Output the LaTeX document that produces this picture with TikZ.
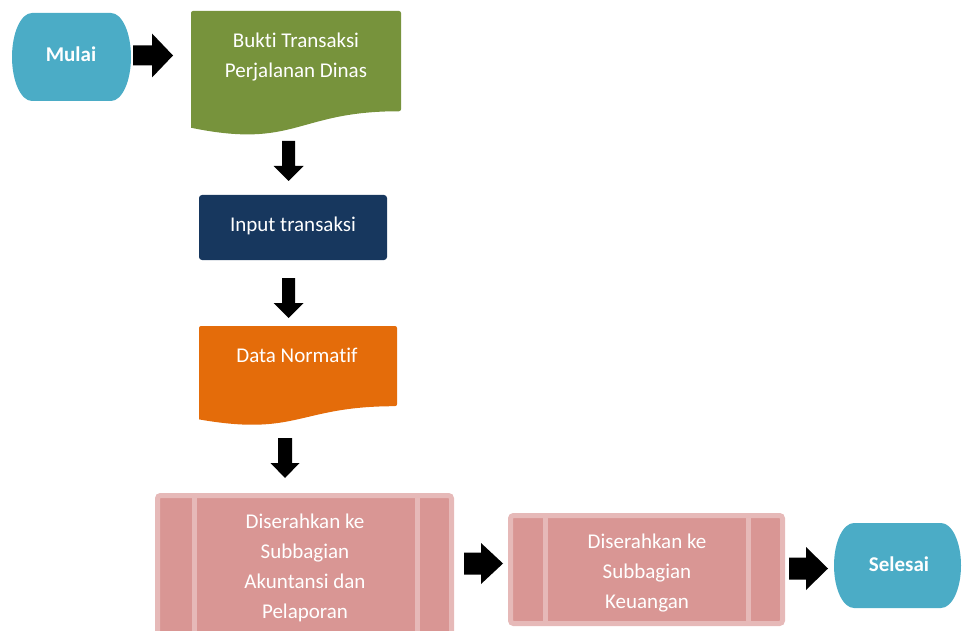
\documentclass[tikz,border=0pt]{standalone}
\usepackage{fontspec}
\setmainfont{Carlito}[Ligatures=NoCommon]
\definecolor{termblue}{HTML}{4BACC6}
\definecolor{docgreen}{HTML}{77933C}
\definecolor{procnavy}{HTML}{17375E}
\definecolor{docorange}{HTML}{E46C0A}
\definecolor{pinkfill}{HTML}{D99694}
\definecolor{pinkline}{HTML}{E6B9B8}
% block arrows: right-pointing and down-pointing
\newcommand\blockright[6]{% x0, x head, x tip, y centre, half head, half shaft
  \fill[blockarrow] (#1,{#4-#6}) -- (#2,{#4-#6}) -- (#2,{#4-#5}) -- (#3,#4)
    -- (#2,{#4+#5}) -- (#2,{#4+#6}) -- (#1,{#4+#6}) -- cycle;}
\newcommand\blockdown[6]{% x centre, y0, y head, y tip, half head, half shaft
  \fill[blockarrow] ({#1-#6},#2) -- ({#1-#6},#3) -- ({#1-#5},#3) -- (#1,#4)
    -- ({#1+#5},#3) -- ({#1+#6},#3) -- ({#1+#6},#2) -- cycle;}
\tikzset{
  blockarrow/.style={fill=black},
  label/.style={text=white, align=center, inner sep=0pt,
    font=\fontsize{21}{30}\selectfont},
  boldlabel/.style={label, font=\fontsize{21}{30}\selectfont\bfseries},
  predef/.style={fill=pinkfill, draw=pinkline, line width=5, rounded corners=3},
  predefbar/.style={draw=pinkline, line width=5},
}
\begin{document}
\begin{tikzpicture}[x=1pt,y=-1pt]
\useasboundingbox (0,0) rectangle (963,631);
\clip (0,0) rectangle (963,631);

% start terminator
\fill[termblue] (32,13) -- (111,13)
  arc[start angle=-90, end angle=90, x radius=20, y radius=44]
  -- (32,101) arc[start angle=90, end angle=270, x radius=20, y radius=44] -- cycle;
\node[boldlabel] (mulai) at (71,54) {Mulai};

% document: Bukti Transaksi
\fill[docgreen, rounded corners=2] (191,127.75) -- (191,11) -- (401,11) -- (401,111.25)
  [sharp corners] .. controls (296,111.25) and (296,149.4) .. (191,127.75) -- cycle;
\node[label] (bukti) at (296,57) {Bukti Transaksi\\Perjalanan Dinas};

% process: Input transaksi
\fill[procnavy, rounded corners=3] (199,195) rectangle (387,260);
\node[label] (input) at (293,226) {Input transaksi};

% document: Data Normatif
\fill[docorange, rounded corners=2] (199,419.4) -- (199,326) -- (397,326) -- (397,406.2)
  [sharp corners] .. controls (298,406.2) and (298,436.75) .. (199,419.4) -- cycle;
\node[label] (normatif) at (297,355) {Data Normatif};

% predefined process 1
\draw[predef] (157.5,495.5) rectangle (451.5,660);
\draw[predefbar] (194,495.5) -- (194,660);
\draw[predefbar] (417,495.5) -- (417,660);
\node[label] (akuntansi) at (305,567.5) {Diserahkan ke\\Subbagian\\Akuntansi dan\\Pelaporan};

% predefined process 2
\draw[predef] (510.5,515.5) rectangle (782.5,623.5);
\draw[predefbar] (545,515.5) -- (545,623.5);
\draw[predefbar] (748,515.5) -- (748,623.5);
\node[label] (keuangan) at (647,573.5) {Diserahkan ke\\Subbagian\\Keuangan};

% end terminator
\fill[termblue] (854,523) -- (941,523)
  arc[start angle=-90, end angle=90, x radius=20, y radius=42.5]
  -- (854,608) arc[start angle=90, end angle=270, x radius=20, y radius=42.5] -- cycle;
\node[boldlabel] (selesai) at (899,564) {Selesai};

% connectors
\blockright{133}{152}{173}{55.5}{22}{10}
\blockdown{288.5}{141}{166}{181}{15}{6.5}
\blockdown{288.5}{278}{303}{318}{15}{6.5}
\blockdown{285}{438}{463}{478}{14.5}{7}
\blockright{464}{481}{503}{563.5}{20.5}{11}
\blockright{789}{806}{828}{568.5}{21.5}{11}
\end{tikzpicture}
\end{document}
